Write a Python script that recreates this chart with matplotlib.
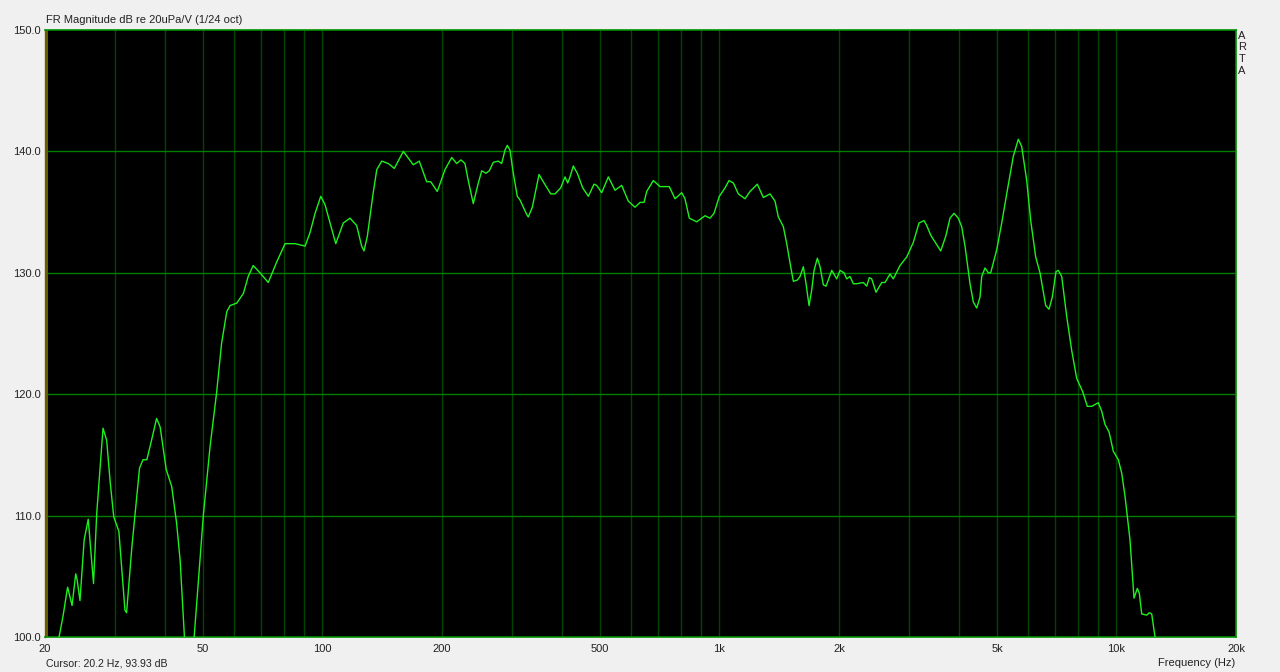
import matplotlib
matplotlib.use("Agg")
import matplotlib.pyplot as plt
from matplotlib.ticker import FixedLocator, NullFormatter

# ---- data ----
freq_hz = [20.2, 21.7, 22.2, 22.8, 23.4, 23.9, 24.1, 24.5, 25.1, 25.7, 26.5, 27.0,
           28.0, 28.6, 29.2, 29.8, 30.7, 31.8, 32.1, 33.1, 34.6, 35.3, 36.1, 37.1,
           38.2, 39.0, 40.4, 41.7, 42.9, 43.8, 44.9, 46.2, 47.5, 50.1, 52.1, 54.1,
           55.7, 57.4, 58.5, 60.8, 63.2, 65.0, 66.9, 69.6, 73.0, 76.7, 80.5, 85.3,
           90.4, 93.0, 95.8, 99.0, 101.5, 104.5, 108.0, 112.8, 117.3, 121.9, 125.5,
           127.2, 129.7, 133.8, 137.0, 141.0, 146.5, 151.7, 159.8, 169.3, 175.3,
           183.0, 187.3, 194.6, 203.5, 211.6, 217.8, 223.3, 228.5, 232.9, 239.8,
           246.9, 251.8, 258.1, 263.1, 269.3, 277.2, 282.7, 288.2, 292.1, 296.7,
           302.4, 309.5, 314.4, 326.9, 329.9, 337.7, 351.1, 359.9, 375.7, 385.2,
           398.1, 408.2, 414.6, 420.2, 428.3, 438.4, 452.3, 467.3, 483.0, 490.6,
           505.0, 524.8, 545.5, 567.1, 589.3, 612.6, 630.7, 645.5, 655.7, 681.3,
           708.3, 747.4, 772.6, 803.2, 818.7, 839.4, 876.3, 919.5, 946.6, 968.8,
           999.1, 1032.7, 1056.9, 1083.6, 1115.4, 1159.6, 1193.7, 1245.4, 1265.1,
           1289.6, 1340.7, 1380.1, 1406.8, 1448.2, 1477.0, 1505.6, 1534.7, 1570.7,
           1595.5, 1626.4, 1652.1, 1681.1, 1707.6, 1730.6, 1764.0, 1791.9, 1826.5,
           1855.4, 1917.7, 1974.1, 2011.6, 2058.8, 2091.4, 2131.8, 2172.9, 2216.2,
           2302.7, 2348.6, 2384.3, 2417.7, 2478.7, 2562.1, 2611.6, 2688.4, 2740.4,
           2848.9, 2961.8, 3077.4, 3180.9, 3274.6, 3326.2, 3404.2, 3607.4, 3713.6,
           3807.4, 3896.9, 3995.2, 4074.7, 4153.6, 4276.0, 4358.6, 4445.4, 4531.4,
           4576.4, 4664.8, 4755.0, 4821.6, 4992.2, 5139.0, 5290.2, 5496.4, 5658.2,
           5771.0, 5940.8, 6080.4, 6259.0, 6417.2, 6632.8, 6761.0, 6892.0, 7041.4,
           7136.0, 7278.2, 7492.2, 7712.6, 7939.4, 8220.6, 8443.0, 8661.0, 8999.0,
           9178.0, 9356.0, 9576.0, 9818.0, 10106, 10307, 10506, 10815, 11069, 11284,
           11415, 11575, 11916, 12097, 12267, 12503, 12800]
level_db = [93.9, 100.0, 101.7, 104.1, 102.6, 105.2, 104.7, 103.0, 108.0, 109.7,
            104.4, 110.2, 117.2, 116.2, 112.7, 109.9, 108.7, 102.2, 102.0, 107.4,
            113.9, 114.6, 114.6, 116.2, 118.0, 117.3, 113.8, 112.4, 109.4, 106.3,
            100.0, 96.0, 100.0, 110.0, 115.7, 120.1, 124.2, 126.8, 127.3, 127.5,
            128.3, 129.7, 130.6, 130.0, 129.2, 130.9, 132.4, 132.4, 132.2, 133.3,
            134.9, 136.3, 135.6, 134.1, 132.4, 134.1, 134.5, 133.9, 132.2, 131.8,
            133.0, 136.3, 138.5, 139.2, 139.0, 138.6, 140.0, 138.9, 139.2, 137.5,
            137.5, 136.7, 138.5, 139.5, 139.0, 139.3, 139.0, 137.6, 135.7, 137.4,
            138.4, 138.2, 138.4, 139.1, 139.2, 139.0, 140.1, 140.5, 140.1, 138.2,
            136.3, 136.0, 134.8, 134.6, 135.4, 138.1, 137.5, 136.5, 136.5, 137.0,
            137.9, 137.4, 137.9, 138.8, 138.2, 137.0, 136.3, 137.3, 137.2, 136.6,
            137.9, 136.8, 137.2, 135.9, 135.4, 135.8, 135.8, 136.7, 137.6, 137.1,
            137.1, 136.1, 136.6, 136.1, 134.5, 134.2, 134.7, 134.5, 134.9, 136.3,
            137.0, 137.6, 137.4, 136.5, 136.1, 136.7, 137.3, 136.8, 136.2, 136.5,
            135.9, 134.6, 133.8, 132.4, 130.8, 129.3, 129.4, 129.7, 130.5, 129.1,
            127.3, 128.6, 130.2, 131.2, 130.5, 129.0, 128.9, 130.2, 129.5, 130.2,
            130.0, 129.5, 129.7, 129.1, 129.1, 129.2, 128.9, 129.6, 129.5, 128.4,
            129.2, 129.2, 129.9, 129.5, 130.6, 131.3, 132.5, 134.1, 134.3, 133.9,
            133.1, 131.8, 133.0, 134.5, 134.9, 134.5, 133.8, 132.2, 129.1, 127.6,
            127.1, 128.0, 129.7, 130.4, 130.0, 130.0, 131.9, 134.1, 136.5, 139.6,
            141.0, 140.4, 137.6, 134.3, 131.3, 130.0, 127.3, 127.0, 128.0, 130.1,
            130.2, 129.7, 126.4, 123.6, 121.3, 120.2, 119.0, 119.0, 119.3, 118.6,
            117.5, 116.9, 115.3, 114.6, 113.5, 111.6, 108.0, 103.2, 104.0, 103.6,
            101.9, 101.8, 102.0, 101.9, 100.0, 97.0]

x_tick_values = [20, 50, 100, 200, 500, 1000, 2000, 5000, 10000, 20000]
x_tick_labels = ["20", "50", "100", "200", "500", "1k", "2k", "5k", "10k", "20k"]
y_tick_values = [100, 110, 120, 130, 140, 150]
y_tick_labels = ["100.0", "110.0", "120.0", "130.0", "140.0", "150.0"]
cursor_hz = 20.2
cursor_db = 93.93

title_text = "FR Magnitude dB re 20uPa/V (1/24 oct)"
cursor_text = f"Cursor: {cursor_hz} Hz, {cursor_db:.2f} dB"
xlabel_text = "Frequency (Hz)"
brand_text = "ARTA"

# ---- styling ----
plt.rcParams["font.family"] = ["Liberation Sans", "DejaVu Sans"]
bg = "#f0f0f0"
fig = plt.figure(figsize=(12.8, 6.72), dpi=100, facecolor=bg)
ax = fig.add_axes([45 / 1280, 35 / 672, 1191 / 1280, 607 / 672])
ax.set_facecolor("black")
ax.set_xscale("log")
ax.set_xlim(20, 20000)
ax.set_ylim(100, 150)

# grid
minor_grid = []
for dec in [10, 100, 1000, 10000]:
    for m in range(1, 10):
        v = dec * m
        if 20 < v < 20000:
            minor_grid.append(v)
for v in minor_grid:
    ax.axvline(v, color="#004400", lw=1.0, zorder=1)
for v in y_tick_values[1:-1]:
    ax.axhline(v, color="#007f00", lw=1.0, zorder=1)

# cursor line
ax.axvline(cursor_hz, color="#6a5f00", lw=1.4, zorder=2)

# curve
ax.plot(freq_hz, level_db, color="#1ef01e", lw=1.0, zorder=3, clip_on=True)

for s in ax.spines.values():
    s.set_color("#009000")
    s.set_linewidth(1.2)
ax.spines["left"].set_color("#6a5f00")
ax.spines["left"].set_linewidth(1.0)

ax.xaxis.set_major_locator(FixedLocator(x_tick_values))
ax.xaxis.set_minor_locator(FixedLocator([]))
ax.xaxis.set_minor_formatter(NullFormatter())
ax.set_xticklabels(x_tick_labels)
ax.set_yticks(y_tick_values)
ax.set_yticklabels(y_tick_labels)
ax.tick_params(axis="both", which="major", labelsize=8, length=0, pad=3)
ax.tick_params(axis="x", pad=5)
for lab in ax.get_xticklabels() + ax.get_yticklabels():
    lab.set_color("#222222")

fig.text(46 / 1280, 1 - 20 / 672, title_text, fontsize=8, color="#222222",
         ha="left", va="center")
fig.text(46 / 1280, 1 - 663 / 672, cursor_text, fontsize=7.6, color="#222222",
         ha="left", va="center")
fig.text(1235 / 1280, 1 - 663 / 672, xlabel_text, fontsize=8, color="#222222",
         ha="right", va="center")
for i, ch in enumerate(brand_text):
    fig.text(1242 / 1280, 1 - (36 + i * 11.5) / 672, ch, fontsize=8,
             color="#222222", ha="center", va="center")

fig.savefig("out.png", dpi=100, facecolor=bg)
